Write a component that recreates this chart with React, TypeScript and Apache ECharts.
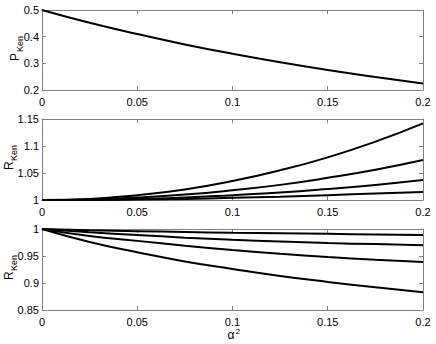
import React, { useEffect, useRef } from "react";
import * as echarts from "echarts";

const xs = [0, 0.025, 0.05, 0.075, 0.1, 0.125, 0.15, 0.175, 0.2];
const xTicks = [0, 0.05, 0.1, 0.15, 0.2];

const pKen = [0.5, 0.452, 0.41, 0.371, 0.336, 0.304, 0.275, 0.249, 0.224];

const rUp1 = [1, 1.002, 1.009, 1.0195, 1.035, 1.055, 1.079, 1.108, 1.142];
const rUp2 = [1, 1.001, 1.0045, 1.01, 1.018, 1.028, 1.041, 1.056, 1.074];
const rUp3 = [1, 1.0005, 1.002, 1.0045, 1.009, 1.014, 1.0205, 1.028, 1.037];
const rUp4 = [1, 1.0002, 1.001, 1.002, 1.004, 1.006, 1.009, 1.012, 1.015];

const rDn1 = [1, 0.9975, 0.996, 0.9945, 0.993, 0.992, 0.991, 0.99, 0.989];
const rDn2 = [1, 0.994, 0.989, 0.984, 0.98, 0.977, 0.974, 0.972, 0.97];
const rDn3 = [1, 0.987, 0.978, 0.969, 0.961, 0.954, 0.948, 0.943, 0.939];
const rDn4 = [1, 0.976, 0.957, 0.94, 0.926, 0.913, 0.902, 0.892, 0.883];

const panels = [
  { min: 0.2, max: 0.5, interval: 0.1, series: [pKen], label: "P" },
  { min: 1, max: 1.15, interval: 0.05, series: [rUp1, rUp2, rUp3, rUp4], label: "R" },
  { min: 0.85, max: 1, interval: 0.05, series: [rDn1, rDn2, rDn3, rDn4], label: "R" },
];

const FONT = "Liberation Sans, Arial, Helvetica, sans-serif";
const GRAY = "#808080";

export default function App() {
  const ref = useRef<HTMLDivElement>(null);
  useEffect(() => {
    if (!ref.current) return;
    const chart = echarts.init(ref.current, null, { renderer: "svg" });
    const grids = [
      { left: 42, right: 13, top: 10, height: 80 },
      { left: 42, right: 13, top: 119, height: 81 },
      { left: 42, right: 13, top: 229, height: 81 },
    ];
    const xAxis: any[] = [];
    const yAxis: any[] = [];
    const series: any[] = [];
    panels.forEach((p, i) => {
      const base = {
        gridIndex: i,
        type: "value",
        min: xTicks[0],
        max: xTicks[xTicks.length - 1],
        interval: 0.05,
        splitLine: { show: false },
        axisLine: { show: true, onZero: false, lineStyle: { color: GRAY, width: 1 } },
        axisTick: { show: true, inside: true, length: 4, lineStyle: { color: GRAY } },
      };
      xAxis.push({
        ...base,
        position: "bottom",
        axisLabel: { color: "#000", fontSize: 11, fontFamily: FONT, margin: 6 },
      });
      xAxis.push({ ...base, position: "top", axisLabel: { show: false } });
      const ybase = {
        gridIndex: i,
        type: "value",
        min: p.min,
        max: p.max,
        interval: p.interval,
        splitLine: { show: false },
        axisLine: { show: true, onZero: false, lineStyle: { color: GRAY, width: 1 } },
        axisTick: { show: true, inside: true, length: 4, lineStyle: { color: GRAY } },
      };
      yAxis.push({
        ...ybase,
        position: "left",
        axisLabel: { color: "#000", fontSize: 11, fontFamily: FONT, margin: 3 },
      });
      yAxis.push({ ...ybase, position: "right", axisLabel: { show: false } });
      p.series.forEach((vals) => {
        series.push({
          type: "line",
          xAxisIndex: i * 2,
          yAxisIndex: i * 2,
          data: xs.map((x, k) => [x, vals[k]]),
          smooth: true,
          showSymbol: false,
          lineStyle: { color: "#000", width: 2 },
          clip: true,
        });
      });
    });

    const yLabel = (letter: string, x: number, y: number) => ({
      type: "group",
      x,
      y,
      rotation: Math.PI / 2,
      children: [
        {
          type: "text",
          x: -11,
          y: 0,
          style: { text: letter, fontSize: 12, fontFamily: FONT, fill: "#000", align: "left", verticalAlign: "middle" },
        },
        {
          type: "text",
          x: -2,
          y: 5,
          style: { text: "Ken", fontSize: 9, fontFamily: FONT, fill: "#000", align: "left", verticalAlign: "middle" },
        },
      ],
    });

    chart.setOption({
      animation: false,
      backgroundColor: "#fff",
      grid: grids,
      xAxis,
      yAxis,
      series,
      graphic: [
        yLabel("P", 15, 50),
        yLabel("R", 9, 159),
        yLabel("R", 9, 269),
        {
          type: "text",
          x: 231,
          y: 335,
          style: { text: "α", fontSize: 12, fontFamily: FONT, fill: "#000", align: "center", verticalAlign: "middle" },
        },
        {
          type: "text",
          x: 238,
          y: 331,
          style: { text: "2", fontSize: 8, fontFamily: FONT, fill: "#000", align: "center", verticalAlign: "middle" },
        },
      ],
    });
    return () => chart.dispose();
  }, []);
  return <div ref={ref} style={{ position: "fixed", left: 0, top: 0, width: 436, height: 344 }} />;
}
